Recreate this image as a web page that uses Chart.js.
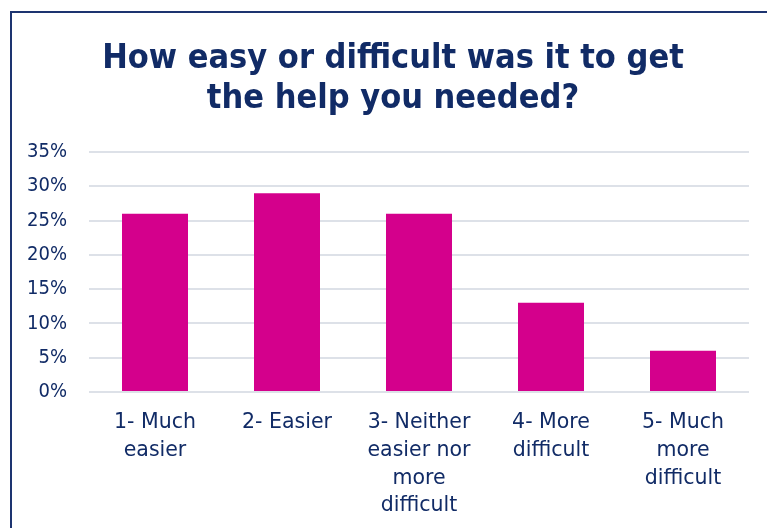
<!DOCTYPE html>
<html>
<head>
<meta charset="utf-8">
<script src="https://cdn.jsdelivr.net/npm/chart.js@4"></script>
<style>
  html, body { margin: 0; padding: 0; background: #fff; }
  #wrap { position: relative; width: 767px; height: 528px; overflow: hidden; }
  #marco { position: absolute; left: 10px; top: 11px; width: 800px; height: 560px;
           border: 2px solid #1d3470; box-sizing: border-box; }
  #titulo { position: absolute; left: 0; top: 36px; width: 786px; margin: 0;
            text-align: center; color: #112b66; font-family: 'DejaVu Sans Condensed', 'DejaVu Sans', Tahoma, sans-serif;
            font-weight: bold; font-size: 34px; line-height: 40px; }
  #grafica { position: absolute; left: 0; top: 0; }
</style>
</head>
<body>
<div id="wrap">
  <div id="marco"></div>
  <canvas id="grafica" width="767" height="528"></canvas>
  <h2 id="titulo"></h2>
</div>
<script>
const categorias = [
  ['1- Much', 'easier'],
  ['2- Easier'],
  ['3- Neither', 'easier nor', 'more', 'difficult'],
  ['4- More', 'difficult'],
  ['5- Much', 'more', 'difficult']
];
const porcentajes = [26, 29, 26, 13, 6];
const tituloLineas = ['How easy or difficult was it to get', 'the help you needed?'];

const azul = '#112b66';

const titulo = document.getElementById('titulo');
tituloLineas.forEach((linea, i) => {
  if (i > 0) titulo.appendChild(document.createElement('br'));
  titulo.appendChild(document.createTextNode(linea));
});

const ctx = document.getElementById('grafica').getContext('2d');
new Chart(ctx, {
  type: 'bar',
  data: {
    labels: categorias,
    datasets: [{
      data: porcentajes,
      backgroundColor: '#d4008c',
      categoryPercentage: 0.5,
      barPercentage: 1
    }]
  },
  options: {
    responsive: false,
    animation: false,
    layout: { padding: { left: 0, right: 18, top: 152, bottom: 0 } },
    plugins: {
      legend: { display: false },
      tooltip: { enabled: false },
      title: { display: false }
    },
    scales: {
      x: {
        grid: { display: false, drawTicks: false },
        border: { display: false },
        ticks: {
          color: azul,
          font: { family: 'DejaVu Sans', size: 20.5, lineHeight: 1.35 },
          padding: 17,
          maxRotation: 0,
          autoSkip: false
        },
        afterFit: (scale) => { scale.height = 136; }
      },
      y: {
        min: 0,
        max: 35,
        grid: { color: '#dde1e8', lineWidth: 2, drawTicks: false },
        border: { display: false },
        ticks: {
          stepSize: 5,
          color: azul,
          font: { family: 'DejaVu Sans Condensed', size: 20 },
          padding: 22,
          callback: (v) => v + '%'
        },
        afterFit: (scale) => { scale.width = 89; }
      }
    }
  }
});
</script>
</body>
</html>
